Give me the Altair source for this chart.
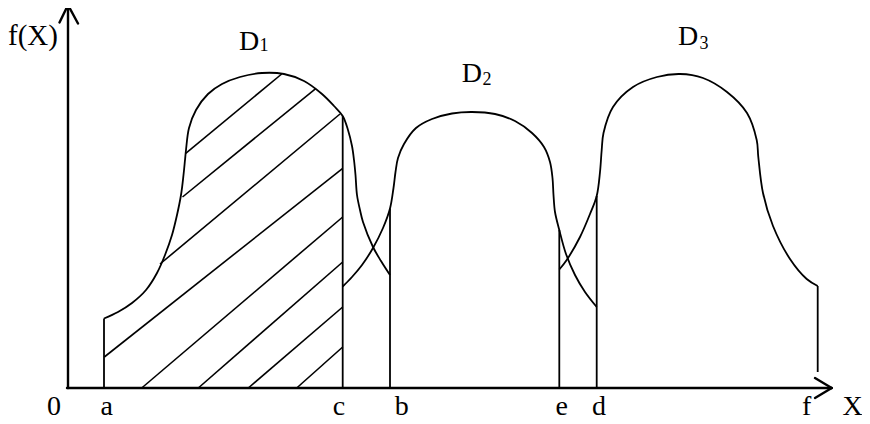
import altair as alt
import pandas as pd

# ---- data (x in horizontal units, f = height above the X axis) ----
D1_X = [104, 118, 132, 146, 157, 165, 172, 177, 181, 183.5, 185, 186, 189, 196, 208, 222, 240, 262, 284,
        304, 322, 334, 342.7, 348, 352, 354, 355.5, 357, 360, 363, 373, 381, 390]
D1_F = [69.5, 76, 85, 98, 115, 133, 153, 173, 193, 213, 228, 238, 260, 278, 294, 304, 311, 315, 314,
        307, 294, 282, 272, 258, 242, 228, 213, 193, 178, 166, 141, 127, 113]

D2_X = [342.7, 352, 362, 373, 383, 390, 393.5, 395.5, 398, 404, 416, 432, 452, 472, 495, 515, 532, 544,
        550, 552.5, 553.5, 555, 559.3, 566, 575, 585, 596.7]
D2_F = [101.5, 111, 123, 140, 160, 179.5, 200, 216, 230, 244, 260, 269, 274.5, 276, 274, 267, 255, 241,
        226, 210, 193, 176, 158, 134, 113, 96, 81]

D3_X = [559.3, 566.7, 580, 590, 596.7, 600, 601.7, 603.5, 613, 633, 657, 680, 703, 727, 747, 756.7,
        758.3, 763, 773, 790, 806.7, 817.7]
D3_F = [118.5, 128, 151, 174, 192, 216, 238, 255, 281, 301, 311, 314, 310, 296, 275, 248,
        231, 195, 162, 129, 109, 102]

# vertical boundary lines: x, lower f, upper f
V_X = [104, 342.7, 390, 559.3, 596.7, 817.7]
V_F0 = [0, 0, 0, 0, 0, 16]
V_F1 = [69.5, 272, 179.5, 158, 192, 102]

# hatching under D1 between a and c
H_X1 = [185.7, 182.5, 160, 104.3, 141.7, 198.3, 248.3, 296.7]
H_F1 = [234.7, 191, 124, 31, 0, 0, 0, 0]
H_X2 = [281.7, 316, 340, 342.7, 342.7, 342.7, 342.7, 342.7]
H_F2 = [314, 299.7, 274, 219.7, 171, 126, 81, 41]

# coordinate axes with open arrow heads
AX_X1 = [68, 67, 59.5, 78, 815, 815]
AX_F1 = [0, 0, 365.5, 364.5, 10, -10]
AX_X2 = [68, 831.7, 68, 68, 831.7, 831.7]
AX_F2 = [383, 0, 383, 383, 0, 0]

# tick labels under the X axis
TICK_LABELS = ["0", "a", "c", "b", "e", "d", "f", "X"]
TICK_X = [54, 106.7, 339, 401.7, 561.7, 599, 806.7, 852.5]
TICK_F = -27

# region labels D1, D2, D3 (letter + subscript)
REG_MAIN = ["D", "D", "D"]
REG_SUB = ["1", "2", "3"]
REG_X = [239, 461.7, 678]
REG_F = [338, 306.3, 343]
SUB_X = [259.5, 482.5, 699.5]
SUB_F = [337.5, 303, 339]

YLABEL = "f(X)"
YLABEL_X = 8
YLABEL_F = 343

FONT = "Liberation Serif"

xs = alt.Scale(domain=[8, 862], nice=False, zero=False)
ys = alt.Scale(domain=[-36, 380], nice=False, zero=False)
X = alt.X("x:Q", scale=xs, axis=None)
Y = alt.Y("y:Q", scale=ys, axis=None)

curves = pd.concat([
    pd.DataFrame({"x": D1_X, "y": D1_F, "i": range(len(D1_X)), "s": "D1"}),
    pd.DataFrame({"x": D2_X, "y": D2_F, "i": range(len(D2_X)), "s": "D2"}),
    pd.DataFrame({"x": D3_X, "y": D3_F, "i": range(len(D3_X)), "s": "D3"}),
])

curve_layer = alt.Chart(curves).mark_line(
    color="black", strokeWidth=1.8, interpolate="catmull-rom"
).encode(x=X, y=Y, order="i:Q", detail="s:N")

verts = pd.DataFrame({"x": V_X, "y": V_F0, "y2": V_F1})
vert_layer = alt.Chart(verts).mark_rule(color="black", strokeWidth=1.8).encode(
    x=X, y=Y, y2="y2:Q")

hatch = pd.DataFrame({"x": H_X1, "y": H_F1, "x2": H_X2, "y2": H_F2})
hatch_layer = alt.Chart(hatch).mark_rule(color="black", strokeWidth=1.6).encode(
    x=X, y=Y, x2="x2:Q", y2="y2:Q")

axes = pd.DataFrame({"x": AX_X1, "y": AX_F1, "x2": AX_X2, "y2": AX_F2})
axes_layer = alt.Chart(axes).mark_rule(color="black", strokeWidth=2.4, strokeCap="round").encode(
    x=X, y=Y, x2="x2:Q", y2="y2:Q")

ticks = pd.DataFrame({"x": TICK_X, "y": [TICK_F] * len(TICK_X), "t": TICK_LABELS})
tick_layer = alt.Chart(ticks).mark_text(
    font=FONT, fontSize=28, color="black", align="center", baseline="alphabetic"
).encode(x=X, y=Y, text="t:N")

regs = pd.DataFrame({"x": REG_X, "y": REG_F, "t": REG_MAIN})
reg_layer = alt.Chart(regs).mark_text(
    font=FONT, fontSize=28, color="black", align="left", baseline="alphabetic"
).encode(x=X, y=Y, text="t:N")

subs = pd.DataFrame({"x": SUB_X, "y": SUB_F, "t": REG_SUB})
sub_layer = alt.Chart(subs).mark_text(
    font=FONT, fontSize=18, color="black", align="left", baseline="alphabetic"
).encode(x=X, y=Y, text="t:N")

ylab = pd.DataFrame({"x": [YLABEL_X], "y": [YLABEL_F], "t": [YLABEL]})
ylab_layer = alt.Chart(ylab).mark_text(
    font=FONT, fontSize=29, color="black", align="left", baseline="alphabetic"
).encode(x=X, y=Y, text="t:N")

chart = alt.layer(
    hatch_layer, vert_layer, curve_layer, axes_layer,
    tick_layer, reg_layer, sub_layer, ylab_layer
).properties(
    width=854, height=416, padding=0,
    autosize=alt.AutoSizeParams(type="none"),
    background="white",
).configure_view(stroke=None)

chart.save("out.html", embed_options={"renderer": "svg", "actions": False})
